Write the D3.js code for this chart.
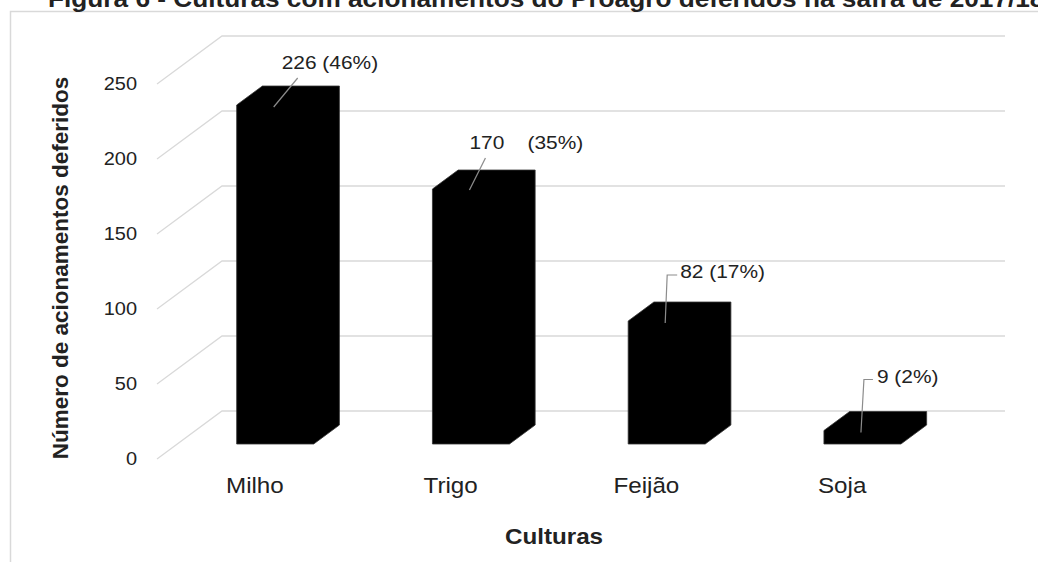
<!DOCTYPE html>
<html><head><meta charset="utf-8">
<script src="https://cdn.jsdelivr.net/npm/d3@7"></script>
<style>
html,body{margin:0;padding:0;background:#fff;}
svg{display:block;}
text{font-family:"Liberation Sans",Arial,sans-serif;fill:#222;}
</style></head>
<body>
<svg id="chart" width="1038" height="562"></svg>
<script>
// ---- data ----
const categories = ["Milho", "Trigo", "Feijão", "Soja"];
const values = [226, 170, 82, 9];
const percentLabels = ["(46%)", "(35%)", "(17%)", "(2%)"];
const yTicks = [0, 50, 100, 150, 200, 250];
const titleText = "Figura 6 - Culturas com acionamentos do Proagro deferidos na safra de 2017/18";
const yTitle = "Número de acionamentos deferidos";
const xTitle = "Culturas";

// ---- layout (not data) ----
const labelGap = [" ", "    ", " ", " "];
const labelText = [[8,-36],[0,-40],[15,-43],[16,-48]];
const leaderPts = [[[0,0],[24,-29]],[[0,-1],[16,-33]],[[0,0],[2,-48],[12,-48]],[[0,0],[3,-53],[12,-53]]];

const svg = d3.select("#chart");
const grid = "#d9d9d9";
const SX = 1.1;

// border
svg.append("path").attr("d","M10.5,562 L10.5,11.5 L1038,11.5").attr("fill","none").attr("stroke",grid).attr("stroke-width",1.5);

// title (cut off at top, as in the reference)
svg.append("text").attr("transform","translate(48,7) scale(1.14,1)")
  .attr("font-size",23).attr("font-weight","bold").attr("fill","#111").text(titleText);

// scales
const y = d3.scaleLinear().domain([0,250]).range([459,84]);
const x = d3.scaleBand().domain(categories).range([157,940]).paddingInner(0.6066).paddingOuter(0.3033);
const DX = 65, DY = -48;
const P = (px, v, f) => [px + DX*f, y(v) + DY*f];

// gridlines
const gl = svg.append("g");
yTicks.forEach(t => {
  const a = P(157,t,0), b = P(157,t,1), c = P(940,t,1);
  gl.append("path").attr("d", d3.line()([a,b,c])).attr("fill","none").attr("stroke",grid).attr("stroke-width",1.3);
});

// tick labels
yTicks.forEach(t => {
  svg.append("text").attr("transform","translate(137,"+y(t)+") scale(1.08,1)")
    .attr("text-anchor","end").attr("dominant-baseline","central")
    .attr("font-size",18.5).text(t);
});

// bars
const f1 = 0.3125, f2 = 0.708;
categories.forEach((c,i) => {
  const v = values[i];
  const L = x(c), R = x(c) + x.bandwidth();
  const pts = [P(L,0,f1), P(L,v,f1), P(L,v,f2), P(R,v,f2), P(R,0,f2), P(R,0,f1)];
  svg.append("path").attr("d", d3.line()(pts) + "Z").attr("fill","#000").attr("stroke","#333").attr("stroke-width",0.8);
  const anchor = P(L + 37, v, f1);
  const lp = leaderPts[i].map(d => [anchor[0]+d[0], anchor[1]+2+d[1]]);
  svg.append("path").attr("d", d3.line()(lp)).attr("fill","none").attr("stroke","#8c8c8c").attr("stroke-width",1.2);
  svg.append("text").attr("transform","translate("+(anchor[0]+labelText[i][0])+","+(anchor[1]+labelText[i][1])+") scale("+SX+",1)")
    .attr("font-size",19).style("white-space","pre").text(v + labelGap[i] + percentLabels[i]);
  svg.append("text").attr("transform","translate("+(x(c)+x.bandwidth()/2)+",493) scale("+SX+",1)")
    .attr("text-anchor","middle").attr("font-size",22).text(c);
});

// axis titles
svg.append("text").attr("transform","translate(68,268) rotate(-90)")
  .attr("text-anchor","middle").attr("font-size",22.5).attr("font-weight","bold").attr("fill","#111").text(yTitle);
svg.append("text").attr("transform","translate(554,544) scale("+SX+",1)")
  .attr("text-anchor","middle").attr("font-size",22).attr("font-weight","bold").attr("fill","#111").text(xTitle);
</script>
</body></html>
